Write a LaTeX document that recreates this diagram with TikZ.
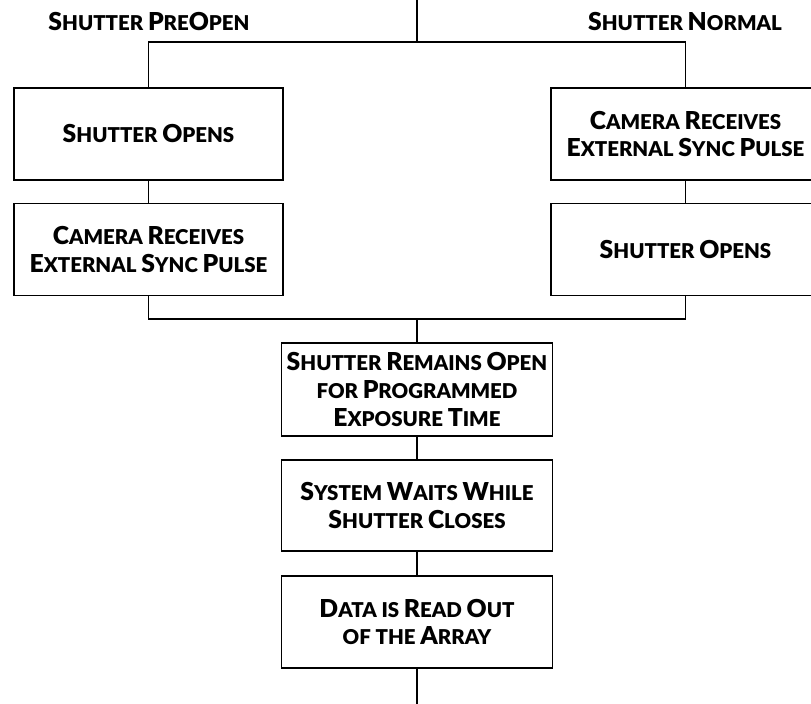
\documentclass[tikz,border=0pt]{standalone}
\usepackage{fontspec}
\setmainfont{Lato}[BoldFont={Lato Black}]
\newcommand\W[2]{{\fontsize{24.8}{28}\selectfont #1}#2}
\tikzset{
  conn/.style={line width=1.6bp},
  txt/.style={font=\bfseries\fontsize{20.5}{28}\selectfont, align=center, inner sep=0pt},
  box/.style={txt, draw, line width=1.6bp, minimum width=269bp, minimum height=92bp},
}
\begin{document}
\begin{tikzpicture}[x=1bp,y=-1bp]
\useasboundingbox (0,0) rectangle (811,704);
\coordinate (top) at (417,0);
\coordinate (split) at (417,42);
\coordinate (join) at (417,319);
\coordinate (bottom) at (417,704);
\node[txt] (lpre) at (149,22) {\W{S}{HUTTER} \W{P}{RE}\W{O}{PEN}};
\node[txt] (lnorm) at (685,22) {\W{S}{HUTTER} \W{N}{ORMAL}};
\node[box] (L1) at (148.5,134) {\W{S}{HUTTER} \W{O}{PENS}};
\node[box] (L2) at (148.5,249.5) {\W{C}{AMERA} \W{R}{ECEIVES}\\\W{E}{XTERNAL} \W{S}{YNC} \W{P}{ULSE}};
\node[box] (R1) at (685.5,134) {\W{C}{AMERA} \W{R}{ECEIVES}\\\W{E}{XTERNAL} \W{S}{YNC} \W{P}{ULSE}};
\node[box] (R2) at (685.5,249.5) {\W{S}{HUTTER} \W{O}{PENS}};
\node[box, minimum width=271bp, minimum height=93bp] (M1) at (417,389.5) {\W{S}{HUTTER} \W{R}{EMAINS} \W{O}{PEN}\\FOR \W{P}{ROGRAMMED}\\\W{E}{XPOSURE} \W{T}{IME}};
\node[box, minimum width=271bp, minimum height=91bp] (M2) at (417,505.5) {\W{S}{YSTEM} \W{W}{AITS} \W{W}{HILE}\\\W{S}{HUTTER} \W{C}{LOSES}};
\node[box, minimum width=271bp, minimum height=92bp] (M3) at (417,622) {\W{D}{ATA} IS \W{R}{EAD} \W{O}{UT}\\OF THE \W{A}{RRAY}};
\draw[conn] (top) -- (split);
\draw[conn] (L1.north) -- (L1.north |- split) -- (R1.north |- split) -- (R1.north);
\draw[conn] (L1) -- (L2);
\draw[conn] (R1) -- (R2);
\draw[conn] (L2.south) -- (L2.south |- join) -- (R2.south |- join) -- (R2.south);
\draw[conn] (join) -- (M1.north);
\draw[conn] (M1) -- (M2);
\draw[conn] (M2) -- (M3);
\draw[conn] (M3.south) -- (bottom);
\end{tikzpicture}
\end{document}
